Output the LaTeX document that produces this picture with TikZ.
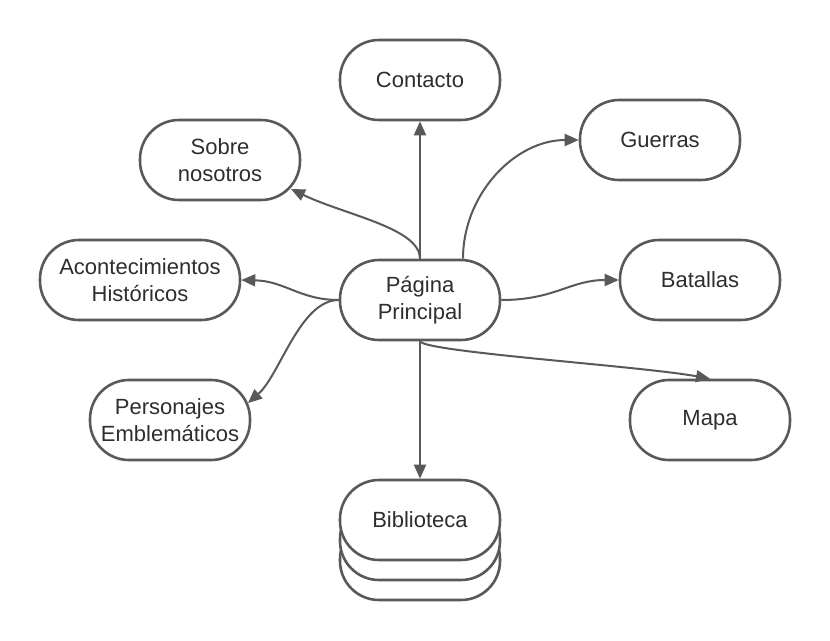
\documentclass[tikz,border=0pt]{standalone}
\usepackage{fontspec}
\setmainfont{Liberation Sans}
\usetikzlibrary{arrows.meta,calc}
\definecolor{ln}{HTML}{595959}
\definecolor{tx}{HTML}{2E2E2E}
\begin{document}
\begin{tikzpicture}[x=1pt,y=-1pt,
  box/.style={draw=ln, line width=2.6pt, fill=white, rounded corners=39pt,
    minimum width=160pt, minimum height=80pt, inner sep=0pt, align=center,
    text=tx, font=\fontsize{22}{27}\selectfont},
  conn/.style={draw=ln, line width=2pt, -{Triangle[length=14pt,width=12pt]}}]
\useasboundingbox (0,0) rectangle (830,640);
\fill[white] (0,0) rectangle (830,640);
\node[box] (ct) at (420,80) {Contacto};
\node[box] (sn) at (220,160) {Sobre\\nosotros};
\node[box] (gu) at (660,140) {Guerras};
\node[box, minimum width=200pt] (ah) at (140,280) {Acontecimientos\\Históricos};
\node[box] (pp) at (420,300) {Página\\Principal};
\node[box] (ba) at (700,280) {Batallas};
\node[box] (pe) at (170,420) {Personajes\\Emblemáticos};
\node[box] (ma) at (710,420) {Mapa};
\node[box] (b3) at (420,560) {};
\node[box] (b2) at (420,540) {};
\node[box] (bi) at (420,520) {Biblioteca};
\draw[conn] (pp.north) -- (ct.south);
\draw[conn] (pp.north) .. controls (420,228) and (345,215) .. ($(sn.center)+(71,29)$);
\draw[conn] ($(pp.north)+(43,0)$) .. controls (463,194) and (515,140) .. (gu.west);
\draw[conn] (pp.west) .. controls (300,300) and (285,281) .. (ah.east);
\draw[conn] (pp.west) .. controls (300,300) and (280,375) .. ($(pe.center)+(78,-17)$);
\draw[conn] (pp.east) .. controls (555,300) and (570,280) .. (ba.west);
\draw[conn] (pp.south) .. controls (425,352) and (640,366) .. (ma.north);
\draw[conn] (pp.south) -- (bi.north);
\end{tikzpicture}
\end{document}
